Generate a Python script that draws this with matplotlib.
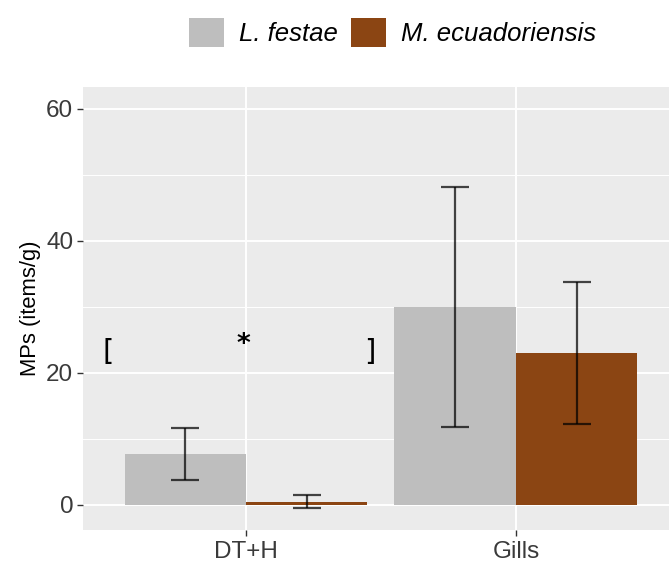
import matplotlib
matplotlib.use("Agg")
import matplotlib.pyplot as plt
import numpy as np
from matplotlib.patches import Patch

categories = ["DT+H", "Gills"]
species = ["L. festae", "M. ecuadoriensis"]
means = {"L. festae": [7.7, 30.0], "M. ecuadoriensis": [0.5, 23.0]}
sds = {"L. festae": [4.0, 18.2], "M. ecuadoriensis": [1.0, 10.7]}
colors = {"L. festae": "#BEBEBE", "M. ecuadoriensis": "#8B4513"}
yticks = [0, 20, 40, 60]

plt.rcParams['font.family'] = ['Liberation Sans', 'DejaVu Sans']

fig = plt.figure(figsize=(6.69, 5.71), dpi=100)
ax = fig.add_axes([83/669, 41/571, 1 - 83/669, (530-87)/571])
ax.set_facecolor("#EBEBEB")
for s in ax.spines.values():
    s.set_visible(False)

x = np.arange(1, len(categories) + 1)
dodge = 0.9
w = dodge / len(species)
for i, sp in enumerate(species):
    xs = x - dodge/2 + w/2 + i*w
    ax.bar(xs, means[sp], width=w, color=colors[sp], zorder=3)
    ax.errorbar(xs, means[sp], yerr=sds[sp], fmt='none', ecolor=(0, 0, 0, 0.72),
                elinewidth=1.6, capsize=10, capthick=1.6, zorder=4)

ax.set_xlim(0.396, 2.567)
ax.set_ylim(-3.8, 63.3)
ax.set_xticks(x)
ax.set_xticklabels(categories)
ax.set_yticks(yticks)
ax.set_yticks([10, 30, 50], minor=True)
ax.grid(which='major', color='white', linewidth=1.4, zorder=0)
ax.grid(which='minor', axis='y', color='white', linewidth=0.7, zorder=0)
ax.set_axisbelow(True)
ax.tick_params(axis='both', which='major', length=4, width=1, color='#333333',
               labelsize=17.5, labelcolor='#3A3A3A', pad=3)
ax.tick_params(axis='both', which='minor', length=0)
ax.tick_params(axis='x', pad=4)
ax.set_ylabel("MPs (items/g)", fontsize=15.8, color='black', labelpad=4)

ax.text(0.489, 23.2, "[", ha='center', va='center', fontsize=21, family='DejaVu Sans', zorder=5)
ax.text(0.99, 24.2, "*", ha='center', va='center', fontsize=19, fontweight='bold',
        family='DejaVu Sans', zorder=5)
ax.text(1.459, 23.2, "]", ha='center', va='center', fontsize=21, family='DejaVu Sans', zorder=5)

handles = [Patch(facecolor=colors[sp], edgecolor='none') for sp in species]
leg = fig.legend(handles, species, loc='upper center', bbox_to_anchor=(0.587, 1.0),
                 ncol=2, frameon=False, fontsize=18.5, handlelength=1.35, handleheight=1.35,
                 columnspacing=0.5, handletextpad=0.6, borderaxespad=0.3)
for t in leg.get_texts():
    t.set_fontstyle('italic')

fig.savefig("out.png", dpi=100)
